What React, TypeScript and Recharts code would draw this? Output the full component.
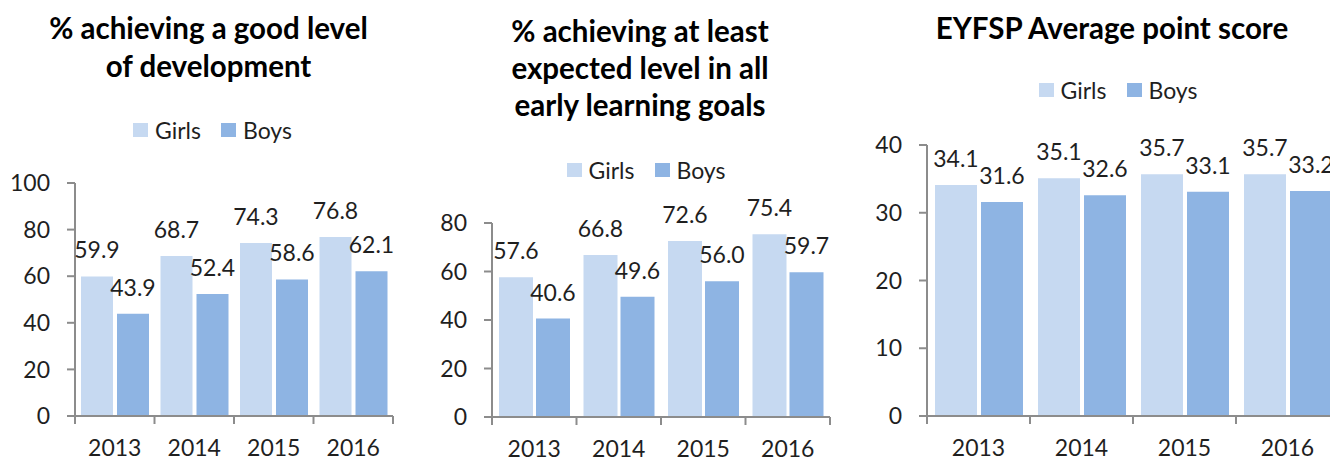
import React from 'react';
import { BarChart, Bar, XAxis, YAxis, LabelList } from 'recharts';

const years = ['2013', '2014', '2015', '2016'];
const gldGirls = [59.9, 68.7, 74.3, 76.8];
const gldBoys = [43.9, 52.4, 58.6, 62.1];
const elgGirls = [57.6, 66.8, 72.6, 75.4];
const elgBoys = [40.6, 49.6, 56.0, 59.7];
const apsGirls = [34.1, 35.1, 35.7, 35.7];
const apsBoys = [31.6, 32.6, 33.1, 33.2];
const gldTicks = [0, 20, 40, 60, 80, 100];
const elgTicks = [0, 20, 40, 60, 80];
const apsTicks = [0, 10, 20, 30, 40];

const GIRLS = '#C6D9F1';
const BOYS = '#8EB4E3';
const AXIS = '#8C8C8C';
const TEXT = '#1F1F1F';
const FONT = 'Lato, "Open Sans", sans-serif';
const FS = 23;

const build = (g: number[], b: number[]) => years.map((y, i) => ({ year: y, girls: g[i], boys: b[i] }));

const XTick = (props: any) => {
  const { x, y, payload, index, visibleTicksCount, width } = props;
  const half = payload && typeof payload.offset === 'number' && payload.offset > 0 ? payload.offset : width / visibleTicksCount / 2;
  return (
    <g>
      <line x1={x - half} x2={x - half} y1={y} y2={y + 8} stroke={AXIS} strokeWidth={2} />
      {index === visibleTicksCount - 1 && (
        <line x1={x + half} x2={x + half} y1={y} y2={y + 8} stroke={AXIS} strokeWidth={2} />
      )}
      <text x={x} y={y + 40} textAnchor="middle" fill={TEXT} fontSize={FS} fontFamily={FONT}>
        {payload.value}
      </text>
    </g>
  );
};

type PanelProps = {
  left: number;
  width: number;
  margin: { top: number; left: number; right: number; bottom: number };
  yWidth: number;
  data: any[];
  domain: [number, number];
  ticks: number[];
  barSize: number;
  barGap: number;
};

const Panel = ({ left, width, margin, yWidth, data, domain, ticks, barSize, barGap }: PanelProps) => (
  <div style={{ position: 'absolute', left, top: 0 }}>
    <BarChart width={width} height={462} data={data} margin={margin} barSize={barSize} barGap={barGap}>
      <XAxis
        dataKey="year"
        height={40}
        axisLine={{ stroke: AXIS, strokeWidth: 2 }}
        tickLine={false}
        tickSize={0}
        tickMargin={0}
        interval={0}
        tick={<XTick />}
      />
      <YAxis
        width={yWidth}
        domain={domain}
        ticks={ticks}
        interval={0}
        axisLine={{ stroke: AXIS, strokeWidth: 2 }}
        tickLine={{ stroke: AXIS, strokeWidth: 2 }}
        tickSize={8}
        tickMargin={17}
        tick={{ fill: TEXT, fontSize: FS, fontFamily: FONT }}
      />
      <Bar dataKey="girls" fill={GIRLS} isAnimationActive={false}>
        <LabelList dataKey="girls" position="top" offset={18} fill={TEXT} fontSize={FS} fontFamily={FONT} formatter={(v: any) => Number(v).toFixed(1)} />
      </Bar>
      <Bar dataKey="boys" fill={BOYS} isAnimationActive={false}>
        <LabelList dataKey="boys" position="top" offset={18} fill={TEXT} fontSize={FS} fontFamily={FONT} formatter={(v: any) => Number(v).toFixed(1)} />
      </Bar>
    </BarChart>
  </div>
);

const Title = ({ cx, top, lineHeight, lines }: { cx: number; top: number; lineHeight: number; lines: string[] }) => (
  <div
    style={{
      position: 'absolute',
      left: cx - 250,
      width: 500,
      top,
      textAlign: 'center',
      fontFamily: FONT,
      fontWeight: 700,
      fontSize: 29.5,
      lineHeight: `${lineHeight}px`,
      color: '#000',
      whiteSpace: 'nowrap',
    }}
  >
    {lines.map((l, i) => (
      <div key={i}>{l}</div>
    ))}
  </div>
);

const LegendRow = ({ cx, cy }: { cx: number; cy: number }) => (
  <div
    style={{
      position: 'absolute',
      left: cx - 150,
      width: 300,
      top: cy - 15,
      height: 30,
      display: 'flex',
      justifyContent: 'center',
      alignItems: 'center',
      fontFamily: FONT,
      fontSize: FS,
      color: TEXT,
    }}
  >
    {[
      { name: 'Girls', color: GIRLS },
      { name: 'Boys', color: BOYS },
    ].map((it, i) => (
      <div key={it.name} style={{ display: 'flex', alignItems: 'center', marginLeft: i === 0 ? 0 : 20 }}>
        <div style={{ width: 15, height: 14, background: it.color, marginRight: 7 }} />
        <span style={{ lineHeight: '30px' }}>{it.name}</span>
      </div>
    ))}
  </div>
);

export default function App() {
  return (
    <div style={{ position: 'absolute', left: 0, top: 0, width: 1330, height: 462, overflow: 'hidden', background: '#fff' }}>
      <Title cx={208.5} top={9} lineHeight={38} lines={['% achieving a good level', 'of development']} />
      <Title cx={640} top={11.5} lineHeight={37} lines={['% achieving at least', 'expected level in all', 'early learning goals']} />
      <Title cx={1112} top={9} lineHeight={38} lines={['EYFSP Average point score']} />
      <LegendRow cx={212.5} cy={130} />
      <LegendRow cx={646} cy={170} />
      <LegendRow cx={1118} cy={90} />
      <Panel
        left={0}
        width={440}
        margin={{ top: 183, left: 15, right: 47, bottom: 6 }}
        yWidth={60}
        data={build(gldGirls, gldBoys)}
        domain={[0, 100]}
        ticks={gldTicks}
        barSize={32}
        barGap={4}
      />
      <Panel
        left={440}
        width={420}
        margin={{ top: 223, left: 2, right: 30, bottom: 5 }}
        yWidth={50}
        data={build(elgGirls, elgBoys)}
        domain={[0, 80]}
        ticks={elgTicks}
        barSize={34}
        barGap={3}
      />
      <Panel
        left={860}
        width={490}
        margin={{ top: 145, left: 7, right: 11, bottom: 6 }}
        yWidth={60}
        data={build(apsGirls, apsBoys)}
        domain={[0, 40]}
        ticks={apsTicks}
        barSize={42}
        barGap={4}
      />
    </div>
  );
}
